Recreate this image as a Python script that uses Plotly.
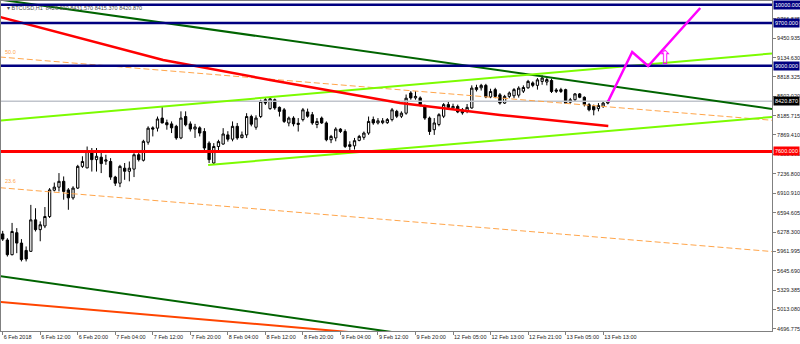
import plotly.graph_objects as go

# ---------------- data ----------------
opens = [6250, 6150, 5910, 6270, 6100, 5980, 5965, 6480, 6320, 6380,
         6535, 6965, 7015, 7110, 6970, 6840, 7000, 7355, 7330, 7600,
         7465, 7505, 7440, 7435, 7180, 7080, 7325, 7275, 7310, 7545,
         7455, 7750, 7985, 7980, 8145, 8070, 8050, 8010, 7820, 8170,
         8050, 7965, 7985, 7925, 7735, 7410, 7680, 7720, 7870, 7800,
         8010, 7825, 7870, 8170, 7995, 8170, 8445, 8300, 8445, 8320,
         8280, 8065, 8145, 8040, 8120, 8245, 8200, 8040, 8145, 8065,
         7790, 7820, 7965, 7925, 7680, 7690, 7780, 7830, 7900, 8120,
         8065, 8070, 8070, 8120, 8255, 8175, 8225, 8555, 8475, 8475,
         8335, 8145, 7955, 8040, 8175, 8365, 8310, 8335, 8280, 8255,
         8310, 8610, 8640, 8680, 8490, 8610, 8525, 8390, 8500, 8510,
         8520, 8585, 8640, 8720, 8680, 8745, 8735, 8760, 8605, 8580,
         8610, 8405, 8445, 8540, 8485, 8365, 8335, 8300, 8340, 8390]
highs = [6300, 6180, 6430, 6345, 6165, 6045, 6725, 6670, 6455, 6690,
         7000, 7090, 7245, 7190, 7000, 7030, 7380, 7520, 7680, 7655,
         7655, 7600, 7545, 7490, 7200, 7380, 7410, 7435, 7570, 7600,
         7790, 8010, 8010, 8170, 8335, 8120, 8090, 8035, 8255, 8255,
         8090, 8050, 8010, 7980, 7765, 7735, 7790, 7980, 7930, 8090,
         8065, 7925, 8225, 8200, 8190, 8445, 8475, 8485, 8465, 8335,
         8310, 8170, 8175, 8145, 8310, 8300, 8245, 8145, 8170, 8090,
         7870, 7995, 7980, 7960, 7765, 7820, 7870, 7925, 8170, 8170,
         8145, 8145, 8145, 8310, 8280, 8255, 8530, 8585, 8585, 8500,
         8365, 8170, 8145, 8225, 8390, 8410, 8380, 8365, 8310, 8375,
         8680, 8690, 8705, 8705, 8625, 8640, 8555, 8525, 8580, 8635,
         8665, 8680, 8770, 8745, 8800, 8845, 8810, 8790, 8635, 8640,
         8625, 8475, 8555, 8555, 8500, 8390, 8365, 8390, 8420, 8440]
lows = [6135, 5880, 5900, 5935, 5800, 5800, 5960, 6290, 6130, 6345,
        6510, 6945, 6945, 6810, 6645, 6810, 6985, 7330, 7325, 7270,
        7270, 7245, 7380, 7135, 7035, 7015, 7135, 7110, 7180, 7435,
        7435, 7710, 7845, 7925, 8060, 7955, 7900, 7790, 7800, 8010,
        7925, 7820, 7845, 7600, 7410, 7380, 7600, 7710, 7760, 7765,
        7790, 7815, 7820, 8010, 7955, 8145, 8360, 8280, 8280, 8170,
        8065, 8010, 8010, 7925, 8090, 8150, 8035, 7980, 8050, 7765,
        7735, 7765, 7900, 7655, 7575, 7630, 7765, 7790, 7870, 8035,
        8040, 8045, 8050, 8090, 8145, 8145, 8200, 8445, 8445, 8335,
        8115, 7870, 7870, 8010, 8145, 8280, 8280, 8225, 8200, 8225,
        8300, 8580, 8595, 8470, 8470, 8470, 8365, 8375, 8470, 8470,
        8480, 8555, 8625, 8650, 8610, 8690, 8680, 8555, 8555, 8555,
        8375, 8375, 8420, 8470, 8335, 8255, 8190, 8255, 8310, 8370]
closes = [6165, 5910, 6290, 6100, 5830, 5840, 6480, 6320, 6400, 6535,
          6970, 7015, 7110, 6945, 6840, 7000, 7355, 7435, 7600, 7465,
          7520, 7400, 7460, 7180, 7080, 7355, 7275, 7325, 7545, 7465,
          7765, 7980, 7965, 8130, 8065, 8035, 7985, 7820, 8145, 8035,
          7965, 8000, 7900, 7655, 7465, 7680, 7760, 7885, 7800, 8010,
          7820, 7870, 8170, 8045, 8145, 8420, 8390, 8460, 8310, 8255,
          8090, 8145, 8050, 8060, 8280, 8175, 8065, 8090, 8065, 7790,
          7845, 7965, 7925, 7680, 7710, 7775, 7845, 7900, 8090, 8065,
          8100, 8100, 8120, 8280, 8175, 8225, 8470, 8475, 8500, 8365,
          8145, 7925, 8065, 8200, 8365, 8320, 8335, 8245, 8230, 8320,
          8635, 8645, 8680, 8490, 8580, 8500, 8390, 8500, 8555, 8610,
          8635, 8645, 8745, 8680, 8770, 8800, 8775, 8580, 8585, 8610,
          8390, 8445, 8540, 8485, 8365, 8280, 8280, 8350, 8390, 8420.87]
bar_index = list(range(len(opens)))

time_tick_index = [0, 8, 16, 24, 32, 40, 48, 56, 64, 72, 80, 88, 96, 104, 112, 120, 128]
time_tick_labels = ["6 Feb 2018", "6 Feb 12:00", "6 Feb 20:00", "7 Feb 04:00", "7 Feb 12:00",
                    "7 Feb 20:00", "8 Feb 04:00", "8 Feb 12:00", "8 Feb 20:00", "9 Feb 04:00",
                    "9 Feb 12:00", "9 Feb 20:00", "12 Feb 05:00", "12 Feb 13:00", "12 Feb 21:00",
                    "13 Feb 05:00", "13 Feb 13:00"]

price_ticks = [4696.775, 5013.080, 5329.385, 5645.690, 5961.995, 6278.300, 6594.605,
               6910.910, 7236.800, 7553.105, 7869.410, 8185.715, 8502.020, 8818.325,
               9134.630, 9450.935, 9766.835]

blue_levels = [10000.0, 9700.0, 9000.0]
red_levels = [7600.0]
bid_price = 8420.87

# moving average (red curve)
ma_x = [-0.6, 12.2, 34.2, 57.0, 84.7, 106.0, 129.1]
ma_y = [9799, 9537, 9095, 8768, 8392, 8195, 8016]

# trend lines (start/end points)
dark_green_upper_x = [-0.6, 164.0]
dark_green_upper_y = [10083, 8294]
dark_green_lower_x = [-0.6, 164.0]
dark_green_lower_y = [5562, 3757]
orange_red_x = [-0.6, 164.0]
orange_red_y = [5136, 4050]
lime_upper_x = [-0.6, 164.0]
lime_upper_y = [8102, 9202]
lime_lower_x = [43.8, 164.0]
lime_lower_y = [7377, 8163]
fib50_x = [-0.6, 164.0]
fib50_y = [9144, 8109]
fib236_x = [-0.6, 164.0]
fib236_y = [7006, 5962]

# projected path (magenta)
proj_x = [129.1, 134.2, 137.6, 148.7]
proj_y = [8425, 9226, 8997, 9946]
arrow_x = 141.2
arrow_y = 9150

title_text = "\u25be BTCUSD,H1  8426.020 8431.570 8415.370 8420.870"

X_RANGE = [-0.36, 164.0]
Y_RANGE = [4662, 10060]

# ---------------- figure ----------------
fig = go.Figure()

fig.add_trace(go.Candlestick(
    x=bar_index, open=opens, high=highs, low=lows, close=closes,
    increasing=dict(line=dict(color="#000000", width=1), fillcolor="#ffffff"),
    decreasing=dict(line=dict(color="#000000", width=1), fillcolor="#000000"),
    whiskerwidth=0, showlegend=False, hoverinfo="skip"))

def line(x, y, color, width, dash="solid"):
    fig.add_trace(go.Scatter(x=x, y=y, mode="lines",
                             line=dict(color=color, width=width, dash=dash),
                             showlegend=False, hoverinfo="skip"))

line([X_RANGE[0], X_RANGE[1]], [bid_price, bid_price], "#c0c4cc", 1.5)
line(fib50_x, fib50_y, "#ffa54a", 1, "6px,3px")
line(fib236_x, fib236_y, "#ffa54a", 1, "6px,3px")
line(dark_green_upper_x, dark_green_upper_y, "#006400", 2)
line(dark_green_lower_x, dark_green_lower_y, "#006400", 2)
line(orange_red_x, orange_red_y, "#ff4500", 2)
line(lime_upper_x, lime_upper_y, "#7cfc00", 2)
line(lime_lower_x, lime_lower_y, "#7cfc00", 2)
line(ma_x, ma_y, "#ff0000", 2.5)
for lv in blue_levels:
    line([X_RANGE[0], X_RANGE[1]], [lv, lv], "#000080", 2.5)
for lv in red_levels:
    line([X_RANGE[0], X_RANGE[1]], [lv, lv], "#ff0000", 3)
line(proj_x, proj_y, "#ff00ff", 2.5)

FONT = "Liberation Sans"
ann = []
ann.append(dict(x=arrow_x, y=arrow_y, xref="x", yref="y", text="\u21e7", showarrow=False,
                font=dict(family="DejaVu Sans", size=19, color="#ff00ff")))
ann.append(dict(x=0, y=9234, xref="x", yref="y", text="50.0", showarrow=False, xanchor="left",
                font=dict(family=FONT, size=5.5, color="#ffa54a")))
ann.append(dict(x=0, y=7116, xref="x", yref="y", text="23.6", showarrow=False, xanchor="left",
                font=dict(family=FONT, size=5.5, color="#ffa54a")))
ann.append(dict(x=0.005, y=0.993, xref="paper", yref="paper", text=title_text, showarrow=False,
                xanchor="left", yanchor="top", font=dict(family=FONT, size=5.5, color="#505050")))

def price_label(v, bg):
    ann.append(dict(x=1, y=v, xref="paper", yref="y", text=f"{v:.3f}", showarrow=False,
                    xanchor="left", yanchor="middle", bgcolor=bg, borderpad=1, xshift=1,
                    font=dict(family=FONT, size=5.5, color="#ffffff")))

for lv in blue_levels:
    price_label(lv, "#000080")
for lv in red_levels:
    price_label(lv, "#ff0000")
price_label(bid_price, "#000000")

fig.update_layout(
    width=800, height=344,
    margin=dict(l=1, r=28, t=1, b=13),
    paper_bgcolor="#ffffff", plot_bgcolor="#ffffff",
    annotations=ann,
    xaxis=dict(range=X_RANGE, rangeslider=dict(visible=False), showgrid=False, zeroline=False,
               tickmode="array", tickvals=time_tick_index, ticktext=time_tick_labels,
               ticks="outside", ticklen=3, tickcolor="#808080", tickangle=0,
               ticklabelposition="outside right", automargin=False,
               tickfont=dict(family=FONT, size=5.5, color="#222222"),
               showline=True, linecolor="#808080", linewidth=1, mirror=True),
    yaxis=dict(range=Y_RANGE, side="right", showgrid=False, zeroline=False, automargin=False,
               tickmode="array", tickvals=price_ticks, ticktext=[f"{v:.3f}" for v in price_ticks],
               ticks="outside", ticklen=3, tickcolor="#808080",
               tickfont=dict(family=FONT, size=5.5, color="#222222"),
               showline=True, linecolor="#808080", linewidth=1, mirror=True),
)

fig.write_html("out.html")
